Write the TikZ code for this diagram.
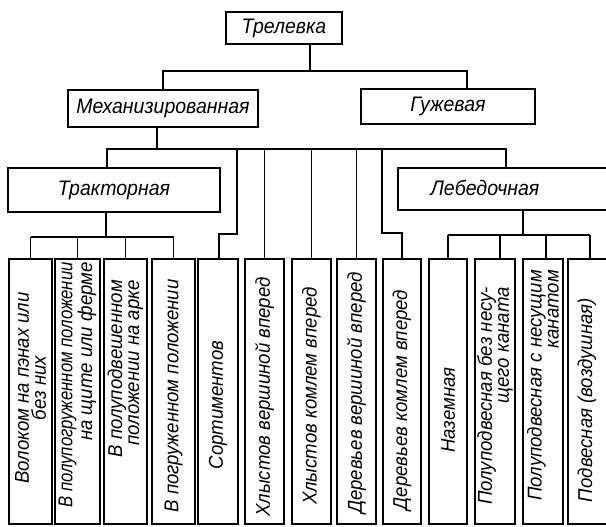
\documentclass[tikz,border=0pt]{standalone}
\usepackage{fontspec}
\setmainfont{Liberation Sans}
\newfontfamily\lf{Liberation Sans}[FakeStretch=0.93]
\begin{document}
\begin{tikzpicture}[x=1pt,y=-1pt,
  box/.style={draw, line width=1.6pt, inner sep=0pt},
  conn/.style={line width=1.1pt},
  hlab/.style={font=\lf\itshape\fontsize{21}{21}\selectfont},
  colbox/.style={box, minimum height=265pt},
  vlab/.style={font=\lf\itshape\fontsize{20}{17}\selectfont, rotate=90, inner sep=0pt}]
\useasboundingbox (0,0) rectangle (606,527);
\clip (0,0) rectangle (606,527);
% upper boxes
\node[box, hlab, minimum width=116pt, minimum height=32pt] (trel) at (284,28) {Трелевка};
\node[box, hlab, minimum width=190pt, minimum height=37pt] (mech) at (163,108.5) {Механизированная};
\node[box, hlab, minimum width=174pt, minimum height=35pt] (guzh) at (448,106.5) {Гужевая};
\node[box, hlab, minimum width=212pt, minimum height=44pt] (trac) at (114,190) {Тракторная};
\node[box, minimum width=217pt, minimum height=42pt] (lebed) at (506.5,189) {};
\node[hlab] (lebedT) at (485,188) {Лебедочная};
% columns
\node[colbox, minimum width=43pt] (c1) at (30.5,391.5) {};
\node[colbox, minimum width=45pt] (c2) at (77.5,391.5) {};
\node[colbox, minimum width=43pt] (c3) at (125.5,391.5) {};
\node[colbox, minimum width=43pt] (c4) at (173.5,391.5) {};
\node[colbox, minimum width=40pt] (c5) at (218,391.5) {};
\node[colbox, minimum width=39pt] (c6) at (264.5,391.5) {};
\node[colbox, minimum width=39pt] (c7) at (311.5,391.5) {};
\node[colbox, minimum width=39pt] (c8) at (356.5,391.5) {};
\node[colbox, minimum width=38pt] (c9) at (402,391.5) {};
\node[colbox, minimum width=38pt] (c10) at (448,391.5) {};
\node[colbox, minimum width=40pt] (c11) at (495,391.5) {};
\node[colbox, minimum width=40pt] (c12) at (543,391.5) {};
\node[colbox, minimum width=47pt] (c13) at (591.5,391.5) {};
% column texts
\node[vlab, align=center] (t1) at (30.5,388) {Волоком на пэнах или\\без них};
\node[vlab, align=right, anchor=east] (t2) at (77.5,262) {\scalebox{0.9}[1]{В полупогруженном положении}\\на щите или ферме};
\node[vlab, align=right, anchor=east] (t3) at (125.5,280) {В полуподвешенном\\положении на арке};
\node[vlab] (t4) at (173.5,396) {В погруженном положении};
\node[vlab] (t5) at (218,405) {Сортиментов};
\node[vlab] (t6) at (264.5,397) {Хлыстов вершиной вперед};
\node[vlab] (t7) at (311.5,396) {Хлыстов комлем вперед};
\node[vlab] (t8) at (356.5,393) {Деревьев вершиной вперед};
\node[vlab] (t9) at (402,400) {Деревьев комлем вперед};
\node[vlab] (t10) at (448,410) {Наземная};
\node[vlab, align=right, anchor=east] (t11) at (495,287) {Полуподвесная без несу-\\щего каната};
\node[vlab, align=right, anchor=east] (t12) at (543,270) {Полуподвесная с несущим\\канатом};
\node[vlab] (t13) at (587,400) {Подвесная (воздушная)};
% junctions
\coordinate (j0) at (310,71);
\coordinate (j1) at (157,149);
\coordinate (j2) at (106,237);
\coordinate (j3) at (523,235);
\coordinate (gx) at (467,0);
\coordinate (tx) at (107,0);
\coordinate (lx) at (506,0);
% connectors
\draw[conn] (trel.south -| j0) -- (j0);
\draw[conn] (mech.north) |- (j0) -| (guzh.north -| gx);
\draw[conn] (mech.south -| j1) -- (j1);
\draw[conn] (trac.north -| tx) -- (tx |- j1) -- (lx |- j1) -- (lebed.north -| lx);
\draw[conn] (237,149) -- (237,234) -- (219,234) -- (c5.north -| 219,0);
\draw[conn] (c6.north) -- (c6.north |- j1);
\draw[conn] (c7.north) -- (c7.north |- j1);
\draw[conn] (c8.north) -- (c8.north |- j1);
\draw[conn] (382,149) -- (382,233) -- (c9.north |- 0,233) -- (c9.north);
\draw[conn] (trac.south -| j2) -- (j2);
\draw[conn] (c1.north |- j2) -- (c4.north |- j2);
\foreach \c in {c1,c2,c3,c4} \draw[conn] (\c.north) -- (\c.north |- j2);
\draw[conn] (lebed.south -| j3) -- (j3);
\draw[conn] (c10.north |- j3) -- (590,235);
\draw[conn] (c10.north) -- (c10.north |- j3);
\draw[conn] (c11.north -| 500,0) -- (500,235);
\draw[conn] (c12.north -| 546,0) -- (546,235);
\draw[conn] (c13.north -| 590,0) -- (590,235);
\end{tikzpicture}
\end{document}
